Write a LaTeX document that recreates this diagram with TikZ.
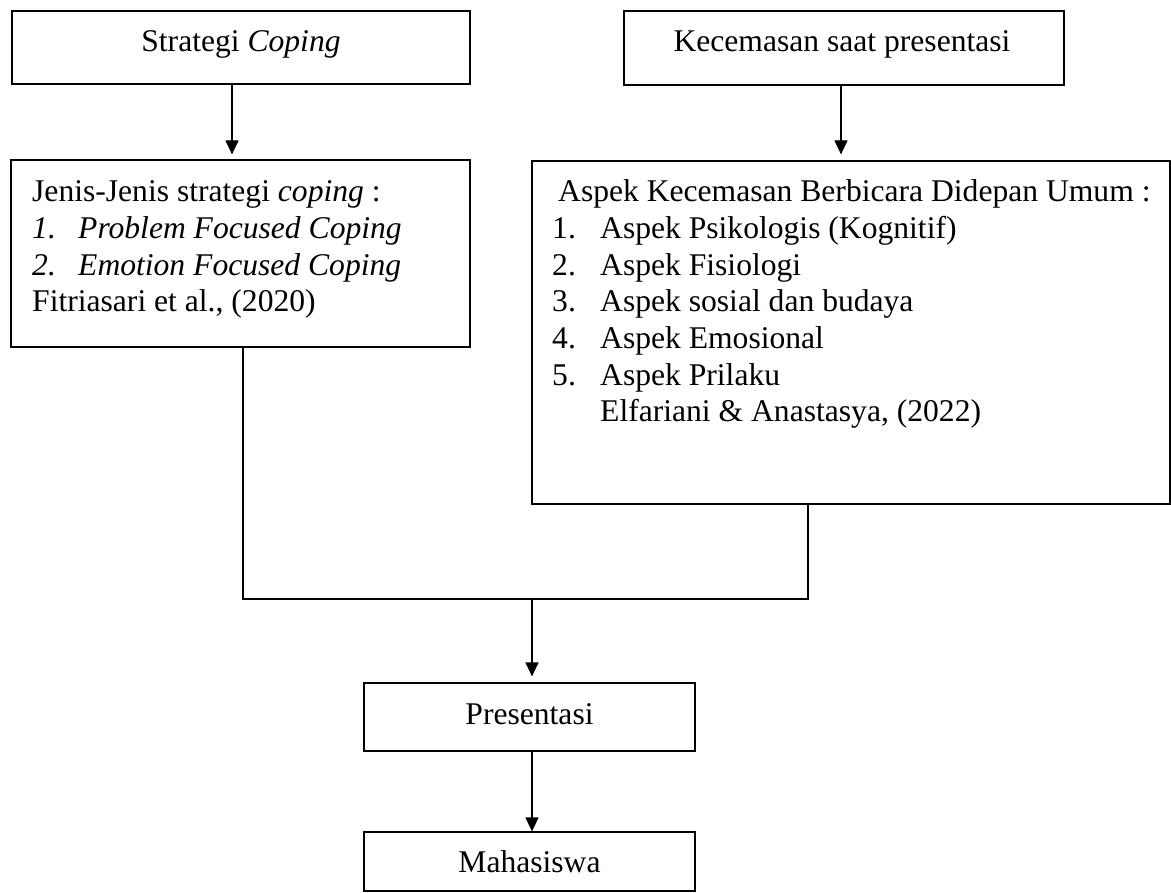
\documentclass[tikz,border=0pt]{standalone}
\usepackage{fontspec}
\setmainfont{Liberation Serif}
\usetikzlibrary{arrows.meta}
\begin{document}
\begin{tikzpicture}[x=1pt,y=-1pt,
  box/.style={draw=black,line width=1.2pt,inner sep=0pt},
  txt/.style={inner sep=0pt,anchor=base west,font=\fontsize{31.6}{36.7}\selectfont},
  ctxt/.style={inner sep=0pt,anchor=base,font=\fontsize{31.6}{36.7}\selectfont},
  conn/.style={line width=1.2pt},
  arr/.style={conn,-{Triangle[length=14pt,width=13pt]}}]
\useasboundingbox (0,0) rectangle (1171,893);
% boxes
\node[box,minimum width=458pt,minimum height=73pt] (b1) at (241,47.5) {};
\node[box,minimum width=440pt,minimum height=74pt] (b2) at (844,48) {};
\node[box,minimum width=459pt,minimum height=187pt] (b3) at (240.5,253.5) {};
\node[box,minimum width=638pt,minimum height=343pt] (b4) at (851,332.5) {};
\node[box,minimum width=331pt,minimum height=68pt] (b5) at (529.5,717) {};
\node[box,minimum width=331pt,minimum height=59pt] (b6) at (529.5,861.5) {};
% single-line labels
\node[ctxt] (l1) at (241,52) {Strategi \textit{Coping}};
\node[ctxt] (l2) at (842,52) {Kecemasan saat presentasi};
\node[ctxt] (l5) at (529.5,724) {Presentasi};
\node[ctxt] (l6) at (529.5,872) {Mahasiswa};
% box 3 text
\node[txt] (a1) at (32,202) {Jenis-Jenis strategi \textit{coping} :};
\node[txt] (a2n) at (32,238.7) {\textit{1.}};
\node[txt] (a2) at (78,238.7) {\textit{Problem Focused Coping}};
\node[txt] (a3n) at (32,275.3) {\textit{2.}};
\node[txt] (a3) at (78,275.3) {\textit{Emotion Focused Coping}};
\node[txt] (a4) at (32,312) {Fitriasari et al., (2020)};
% box 4 text
\node[txt] (c1) at (558,202) {Aspek Kecemasan Berbicara Didepan Umum :};
\node[txt] (c2n) at (552,238.7) {1.};
\node[txt] (c2) at (600,238.7) {Aspek Psikologis (Kognitif)};
\node[txt] (c3n) at (552,275.3) {2.};
\node[txt] (c3) at (600,275.3) {Aspek Fisiologi};
\node[txt] (c4n) at (552,312) {3.};
\node[txt] (c4) at (600,312) {Aspek sosial dan budaya};
\node[txt] (c5n) at (552,348.7) {4.};
\node[txt] (c5) at (600,348.7) {Aspek Emosional};
\node[txt] (c6n) at (552,385.3) {5.};
\node[txt] (c6) at (600,385.3) {Aspek Prilaku};
\node[txt] (c7) at (600,422) {Elfariani \& Anastasya, (2022)};
% connectors
\draw[arr,shorten >=5pt] ([xshift=-9pt]b1.south) -- ([xshift=-9pt]b1.south |- b3.north);
\draw[arr,shorten >=6pt] ([xshift=-3pt]b2.south) -- ([xshift=-3pt]b2.south |- b4.north);
\coordinate (jl) at (243,599);
\coordinate (jr) at (808,599);
\coordinate (jm) at (532,599);
\draw[conn] (b3.south -| jl) -- (jl) -- (jr) -- (b4.south -| jr);
\draw[arr,shorten >=6pt] (jm) -- (b5.north -| jm);
\draw[arr] (b5.south -| jm) -- (b6.north -| jm);
\end{tikzpicture}
\end{document}
